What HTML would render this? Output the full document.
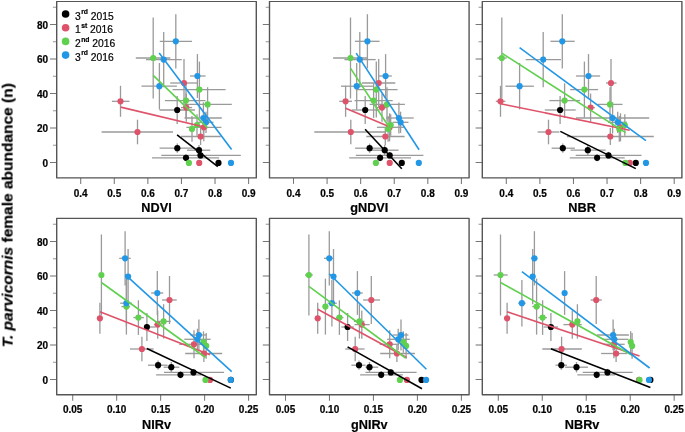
<!DOCTYPE html>
<html><head><meta charset="utf-8"><style>
html,body{margin:0;padding:0;background:#fff;width:685px;height:432px;overflow:hidden}
svg{display:block;will-change:transform}
text{font-family:"Liberation Sans",sans-serif}
.tl{font-size:10px;font-weight:bold;fill:#000;stroke:#000;stroke-width:0.2px}
.tt{font-size:12.7px;font-weight:bold;fill:#000;stroke:#000;stroke-width:0.2px}
.lg{font-size:10.3px;fill:#000;stroke:#000;stroke-width:0.2px}
.sup{font-size:6.8px;font-weight:bold}
.yt{font-size:15.5px;font-weight:bold;fill:#000;stroke:#000;stroke-width:0.2px}
</style></head><body>
<svg width="685" height="432" viewBox="0 0 685 432">
<defs><filter id="bl" x="0" y="0" width="1" height="1"><feGaussianBlur stdDeviation="0.3"/></filter></defs>
<rect x="0" y="0" width="685" height="432" fill="#fff"/>
<g filter="url(#bl)">
<line x1="50.00" y1="162.50" x2="56.70" y2="162.50" stroke="#777" stroke-width="1.05"/>
<text x="48.10" y="166.55" text-anchor="end" class="tl">0</text>
<line x1="52.90" y1="145.25" x2="56.70" y2="145.25" stroke="#9a9a9a" stroke-width="1.05"/>
<line x1="50.00" y1="128.00" x2="56.70" y2="128.00" stroke="#777" stroke-width="1.05"/>
<text x="48.10" y="132.05" text-anchor="end" class="tl">20</text>
<line x1="52.90" y1="110.75" x2="56.70" y2="110.75" stroke="#9a9a9a" stroke-width="1.05"/>
<line x1="50.00" y1="93.50" x2="56.70" y2="93.50" stroke="#777" stroke-width="1.05"/>
<text x="48.10" y="97.55" text-anchor="end" class="tl">40</text>
<line x1="52.90" y1="76.25" x2="56.70" y2="76.25" stroke="#9a9a9a" stroke-width="1.05"/>
<line x1="50.00" y1="59.00" x2="56.70" y2="59.00" stroke="#777" stroke-width="1.05"/>
<text x="48.10" y="63.05" text-anchor="end" class="tl">60</text>
<line x1="52.90" y1="41.75" x2="56.70" y2="41.75" stroke="#9a9a9a" stroke-width="1.05"/>
<line x1="50.00" y1="24.50" x2="56.70" y2="24.50" stroke="#777" stroke-width="1.05"/>
<text x="48.10" y="28.55" text-anchor="end" class="tl">80</text>
<line x1="52.90" y1="7.25" x2="56.70" y2="7.25" stroke="#9a9a9a" stroke-width="1.05"/>
<line x1="80.70" y1="177.90" x2="80.70" y2="183.90" stroke="#777" stroke-width="1.05"/>
<text x="80.70" y="197.20" text-anchor="middle" class="tl">0.4</text>
<line x1="114.28" y1="177.90" x2="114.28" y2="183.90" stroke="#777" stroke-width="1.05"/>
<text x="114.28" y="197.20" text-anchor="middle" class="tl">0.5</text>
<line x1="147.86" y1="177.90" x2="147.86" y2="183.90" stroke="#777" stroke-width="1.05"/>
<text x="147.86" y="197.20" text-anchor="middle" class="tl">0.6</text>
<line x1="181.44" y1="177.90" x2="181.44" y2="183.90" stroke="#777" stroke-width="1.05"/>
<text x="181.44" y="197.20" text-anchor="middle" class="tl">0.7</text>
<line x1="215.02" y1="177.90" x2="215.02" y2="183.90" stroke="#777" stroke-width="1.05"/>
<text x="215.02" y="197.20" text-anchor="middle" class="tl">0.8</text>
<line x1="248.60" y1="177.90" x2="248.60" y2="183.90" stroke="#777" stroke-width="1.05"/>
<text x="248.60" y="197.20" text-anchor="middle" class="tl">0.9</text>
<text x="156.50" y="211.60" text-anchor="middle" class="tt">NDVI</text>
<line x1="159.80" y1="41.30" x2="192.00" y2="41.30" stroke="#9a9a9a" stroke-width="1.3"/>
<line x1="175.80" y1="14.20" x2="175.80" y2="68.40" stroke="#9a9a9a" stroke-width="1.3"/>
<line x1="135.80" y1="58.00" x2="170.30" y2="58.00" stroke="#9a9a9a" stroke-width="1.3"/>
<line x1="153.20" y1="17.50" x2="153.20" y2="98.50" stroke="#9a9a9a" stroke-width="1.3"/>
<line x1="146.00" y1="59.60" x2="181.80" y2="59.60" stroke="#9a9a9a" stroke-width="1.3"/>
<line x1="163.70" y1="32.00" x2="163.70" y2="87.20" stroke="#9a9a9a" stroke-width="1.3"/>
<line x1="190.00" y1="76.00" x2="205.60" y2="76.00" stroke="#9a9a9a" stroke-width="1.3"/>
<line x1="197.40" y1="54.10" x2="197.40" y2="97.90" stroke="#9a9a9a" stroke-width="1.3"/>
<line x1="170.20" y1="83.00" x2="197.30" y2="83.00" stroke="#9a9a9a" stroke-width="1.3"/>
<line x1="184.00" y1="59.00" x2="184.00" y2="107.00" stroke="#9a9a9a" stroke-width="1.3"/>
<line x1="141.50" y1="86.20" x2="176.90" y2="86.20" stroke="#9a9a9a" stroke-width="1.3"/>
<line x1="159.40" y1="63.00" x2="159.40" y2="109.40" stroke="#9a9a9a" stroke-width="1.3"/>
<line x1="172.60" y1="89.60" x2="225.60" y2="89.60" stroke="#9a9a9a" stroke-width="1.3"/>
<line x1="199.40" y1="61.60" x2="199.40" y2="117.60" stroke="#9a9a9a" stroke-width="1.3"/>
<line x1="164.90" y1="100.60" x2="205.50" y2="100.60" stroke="#9a9a9a" stroke-width="1.3"/>
<line x1="186.00" y1="83.30" x2="186.00" y2="117.90" stroke="#9a9a9a" stroke-width="1.3"/>
<line x1="111.90" y1="101.30" x2="129.50" y2="101.30" stroke="#9a9a9a" stroke-width="1.3"/>
<line x1="120.50" y1="85.80" x2="120.50" y2="116.80" stroke="#9a9a9a" stroke-width="1.3"/>
<line x1="184.50" y1="104.40" x2="231.80" y2="104.40" stroke="#9a9a9a" stroke-width="1.3"/>
<line x1="207.60" y1="87.20" x2="207.60" y2="121.60" stroke="#9a9a9a" stroke-width="1.3"/>
<line x1="181.00" y1="107.60" x2="192.10" y2="107.60" stroke="#9a9a9a" stroke-width="1.3"/>
<line x1="186.30" y1="93.50" x2="186.30" y2="121.70" stroke="#9a9a9a" stroke-width="1.3"/>
<line x1="159.50" y1="110.00" x2="195.00" y2="110.00" stroke="#9a9a9a" stroke-width="1.3"/>
<line x1="177.20" y1="96.00" x2="177.20" y2="124.00" stroke="#9a9a9a" stroke-width="1.3"/>
<line x1="184.50" y1="118.00" x2="221.80" y2="118.00" stroke="#9a9a9a" stroke-width="1.3"/>
<line x1="203.40" y1="102.40" x2="203.40" y2="133.60" stroke="#9a9a9a" stroke-width="1.3"/>
<line x1="197.30" y1="122.30" x2="213.50" y2="122.30" stroke="#9a9a9a" stroke-width="1.3"/>
<line x1="206.00" y1="111.70" x2="206.00" y2="132.90" stroke="#9a9a9a" stroke-width="1.3"/>
<line x1="197.00" y1="114.30" x2="197.00" y2="135.70" stroke="#9a9a9a" stroke-width="1.3"/>
<line x1="186.40" y1="127.30" x2="221.40" y2="127.30" stroke="#9a9a9a" stroke-width="1.3"/>
<line x1="203.80" y1="113.30" x2="203.80" y2="141.30" stroke="#9a9a9a" stroke-width="1.3"/>
<line x1="192.00" y1="116.00" x2="192.00" y2="141.80" stroke="#9a9a9a" stroke-width="1.3"/>
<line x1="101.60" y1="132.00" x2="173.00" y2="132.00" stroke="#9a9a9a" stroke-width="1.3"/>
<line x1="137.50" y1="119.70" x2="137.50" y2="144.30" stroke="#9a9a9a" stroke-width="1.3"/>
<line x1="181.00" y1="136.50" x2="220.80" y2="136.50" stroke="#9a9a9a" stroke-width="1.3"/>
<line x1="200.60" y1="128.00" x2="200.60" y2="145.00" stroke="#9a9a9a" stroke-width="1.3"/>
<line x1="159.60" y1="148.20" x2="193.90" y2="148.20" stroke="#9a9a9a" stroke-width="1.3"/>
<line x1="177.30" y1="143.60" x2="177.30" y2="152.80" stroke="#9a9a9a" stroke-width="1.3"/>
<line x1="187.00" y1="150.20" x2="210.30" y2="150.20" stroke="#9a9a9a" stroke-width="1.3"/>
<line x1="199.00" y1="145.00" x2="199.00" y2="155.40" stroke="#9a9a9a" stroke-width="1.3"/>
<line x1="161.30" y1="155.40" x2="240.80" y2="155.40" stroke="#9a9a9a" stroke-width="1.3"/>
<line x1="200.50" y1="151.90" x2="200.50" y2="158.90" stroke="#9a9a9a" stroke-width="1.3"/>
<line x1="152.00" y1="157.80" x2="219.00" y2="157.80" stroke="#9a9a9a" stroke-width="1.3"/>
<line x1="186.00" y1="154.30" x2="186.00" y2="161.30" stroke="#9a9a9a" stroke-width="1.3"/>
<circle cx="177.20" cy="110.00" r="3.1" fill="#000000"/>
<circle cx="177.30" cy="148.20" r="3.1" fill="#000000"/>
<circle cx="199.00" cy="150.20" r="3.1" fill="#000000"/>
<circle cx="200.50" cy="155.40" r="3.1" fill="#000000"/>
<circle cx="186.00" cy="157.80" r="3.1" fill="#000000"/>
<circle cx="218.50" cy="162.90" r="3.1" fill="#000000"/>
<circle cx="184.00" cy="83.00" r="3.1" fill="#DF536B"/>
<circle cx="120.50" cy="101.30" r="3.1" fill="#DF536B"/>
<circle cx="186.30" cy="107.60" r="3.1" fill="#DF536B"/>
<circle cx="203.80" cy="127.30" r="3.1" fill="#DF536B"/>
<circle cx="137.50" cy="132.00" r="3.1" fill="#DF536B"/>
<circle cx="200.60" cy="136.50" r="3.1" fill="#DF536B"/>
<circle cx="199.20" cy="162.90" r="3.1" fill="#DF536B"/>
<circle cx="153.20" cy="58.00" r="3.1" fill="#61D04F"/>
<circle cx="199.40" cy="89.60" r="3.1" fill="#61D04F"/>
<circle cx="186.00" cy="100.60" r="3.1" fill="#61D04F"/>
<circle cx="207.60" cy="104.40" r="3.1" fill="#61D04F"/>
<circle cx="197.00" cy="125.00" r="3.1" fill="#61D04F"/>
<circle cx="192.00" cy="128.90" r="3.1" fill="#61D04F"/>
<circle cx="188.90" cy="162.90" r="3.1" fill="#61D04F"/>
<circle cx="175.80" cy="41.30" r="3.1" fill="#2297E6"/>
<circle cx="163.70" cy="59.60" r="3.1" fill="#2297E6"/>
<circle cx="197.40" cy="76.00" r="3.1" fill="#2297E6"/>
<circle cx="159.40" cy="86.20" r="3.1" fill="#2297E6"/>
<circle cx="203.40" cy="118.00" r="3.1" fill="#2297E6"/>
<circle cx="206.00" cy="122.30" r="3.1" fill="#2297E6"/>
<circle cx="231.00" cy="162.90" r="3.1" fill="#2297E6"/>
<line x1="120.70" y1="107.10" x2="207.30" y2="127.80" stroke="#DF536B" stroke-width="1.6"/>
<line x1="153.20" y1="75.40" x2="207.60" y2="127.80" stroke="#61D04F" stroke-width="1.6"/>
<line x1="159.20" y1="53.10" x2="231.60" y2="149.60" stroke="#2297E6" stroke-width="1.6"/>
<line x1="177.10" y1="134.80" x2="217.80" y2="166.60" stroke="#000000" stroke-width="1.6"/>
<rect x="56.70" y="1.40" width="199.60" height="176.50" fill="none" stroke="#555" stroke-width="1.4" stroke-linejoin="round"/>
<line x1="262.80" y1="162.50" x2="269.50" y2="162.50" stroke="#777" stroke-width="1.05"/>
<line x1="265.70" y1="145.25" x2="269.50" y2="145.25" stroke="#9a9a9a" stroke-width="1.05"/>
<line x1="262.80" y1="128.00" x2="269.50" y2="128.00" stroke="#777" stroke-width="1.05"/>
<line x1="265.70" y1="110.75" x2="269.50" y2="110.75" stroke="#9a9a9a" stroke-width="1.05"/>
<line x1="262.80" y1="93.50" x2="269.50" y2="93.50" stroke="#777" stroke-width="1.05"/>
<line x1="265.70" y1="76.25" x2="269.50" y2="76.25" stroke="#9a9a9a" stroke-width="1.05"/>
<line x1="262.80" y1="59.00" x2="269.50" y2="59.00" stroke="#777" stroke-width="1.05"/>
<line x1="265.70" y1="41.75" x2="269.50" y2="41.75" stroke="#9a9a9a" stroke-width="1.05"/>
<line x1="262.80" y1="24.50" x2="269.50" y2="24.50" stroke="#777" stroke-width="1.05"/>
<line x1="265.70" y1="7.25" x2="269.50" y2="7.25" stroke="#9a9a9a" stroke-width="1.05"/>
<line x1="293.50" y1="177.90" x2="293.50" y2="183.90" stroke="#777" stroke-width="1.05"/>
<text x="293.50" y="197.20" text-anchor="middle" class="tl">0.4</text>
<line x1="327.08" y1="177.90" x2="327.08" y2="183.90" stroke="#777" stroke-width="1.05"/>
<text x="327.08" y="197.20" text-anchor="middle" class="tl">0.5</text>
<line x1="360.66" y1="177.90" x2="360.66" y2="183.90" stroke="#777" stroke-width="1.05"/>
<text x="360.66" y="197.20" text-anchor="middle" class="tl">0.6</text>
<line x1="394.24" y1="177.90" x2="394.24" y2="183.90" stroke="#777" stroke-width="1.05"/>
<text x="394.24" y="197.20" text-anchor="middle" class="tl">0.7</text>
<line x1="427.82" y1="177.90" x2="427.82" y2="183.90" stroke="#777" stroke-width="1.05"/>
<text x="427.82" y="197.20" text-anchor="middle" class="tl">0.8</text>
<line x1="461.40" y1="177.90" x2="461.40" y2="183.90" stroke="#777" stroke-width="1.05"/>
<text x="461.40" y="197.20" text-anchor="middle" class="tl">0.9</text>
<text x="369.30" y="211.60" text-anchor="middle" class="tt">gNDVI</text>
<line x1="354.90" y1="41.30" x2="379.60" y2="41.30" stroke="#9a9a9a" stroke-width="1.3"/>
<line x1="367.40" y1="14.20" x2="367.40" y2="68.40" stroke="#9a9a9a" stroke-width="1.3"/>
<line x1="333.10" y1="58.00" x2="367.00" y2="58.00" stroke="#9a9a9a" stroke-width="1.3"/>
<line x1="350.50" y1="17.50" x2="350.50" y2="98.50" stroke="#9a9a9a" stroke-width="1.3"/>
<line x1="344.40" y1="59.60" x2="375.70" y2="59.60" stroke="#9a9a9a" stroke-width="1.3"/>
<line x1="359.80" y1="32.00" x2="359.80" y2="87.20" stroke="#9a9a9a" stroke-width="1.3"/>
<line x1="378.90" y1="76.00" x2="391.80" y2="76.00" stroke="#9a9a9a" stroke-width="1.3"/>
<line x1="385.60" y1="54.10" x2="385.60" y2="97.90" stroke="#9a9a9a" stroke-width="1.3"/>
<line x1="362.00" y1="83.00" x2="395.30" y2="83.00" stroke="#9a9a9a" stroke-width="1.3"/>
<line x1="378.70" y1="59.00" x2="378.70" y2="107.00" stroke="#9a9a9a" stroke-width="1.3"/>
<line x1="341.00" y1="86.20" x2="372.90" y2="86.20" stroke="#9a9a9a" stroke-width="1.3"/>
<line x1="356.70" y1="63.00" x2="356.70" y2="109.40" stroke="#9a9a9a" stroke-width="1.3"/>
<line x1="355.70" y1="89.60" x2="397.60" y2="89.60" stroke="#9a9a9a" stroke-width="1.3"/>
<line x1="376.30" y1="61.60" x2="376.30" y2="117.60" stroke="#9a9a9a" stroke-width="1.3"/>
<line x1="354.50" y1="100.60" x2="392.70" y2="100.60" stroke="#9a9a9a" stroke-width="1.3"/>
<line x1="373.60" y1="83.30" x2="373.60" y2="117.90" stroke="#9a9a9a" stroke-width="1.3"/>
<line x1="339.30" y1="101.30" x2="352.00" y2="101.30" stroke="#9a9a9a" stroke-width="1.3"/>
<line x1="345.60" y1="85.80" x2="345.60" y2="116.80" stroke="#9a9a9a" stroke-width="1.3"/>
<line x1="369.60" y1="104.40" x2="404.90" y2="104.40" stroke="#9a9a9a" stroke-width="1.3"/>
<line x1="387.00" y1="87.20" x2="387.00" y2="121.60" stroke="#9a9a9a" stroke-width="1.3"/>
<line x1="377.00" y1="107.60" x2="387.00" y2="107.60" stroke="#9a9a9a" stroke-width="1.3"/>
<line x1="382.00" y1="93.50" x2="382.00" y2="121.70" stroke="#9a9a9a" stroke-width="1.3"/>
<line x1="351.80" y1="110.00" x2="379.60" y2="110.00" stroke="#9a9a9a" stroke-width="1.3"/>
<line x1="365.20" y1="96.00" x2="365.20" y2="124.00" stroke="#9a9a9a" stroke-width="1.3"/>
<line x1="386.10" y1="118.00" x2="413.70" y2="118.00" stroke="#9a9a9a" stroke-width="1.3"/>
<line x1="398.90" y1="102.40" x2="398.90" y2="133.60" stroke="#9a9a9a" stroke-width="1.3"/>
<line x1="392.70" y1="122.30" x2="408.50" y2="122.30" stroke="#9a9a9a" stroke-width="1.3"/>
<line x1="400.60" y1="111.70" x2="400.60" y2="132.90" stroke="#9a9a9a" stroke-width="1.3"/>
<line x1="390.70" y1="114.30" x2="390.70" y2="135.70" stroke="#9a9a9a" stroke-width="1.3"/>
<line x1="376.90" y1="127.30" x2="403.90" y2="127.30" stroke="#9a9a9a" stroke-width="1.3"/>
<line x1="389.60" y1="113.30" x2="389.60" y2="141.30" stroke="#9a9a9a" stroke-width="1.3"/>
<line x1="388.10" y1="116.00" x2="388.10" y2="141.80" stroke="#9a9a9a" stroke-width="1.3"/>
<line x1="314.30" y1="132.00" x2="385.30" y2="132.00" stroke="#9a9a9a" stroke-width="1.3"/>
<line x1="350.80" y1="119.70" x2="350.80" y2="144.30" stroke="#9a9a9a" stroke-width="1.3"/>
<line x1="366.30" y1="136.50" x2="404.60" y2="136.50" stroke="#9a9a9a" stroke-width="1.3"/>
<line x1="385.30" y1="128.00" x2="385.30" y2="145.00" stroke="#9a9a9a" stroke-width="1.3"/>
<line x1="355.10" y1="148.20" x2="383.00" y2="148.20" stroke="#9a9a9a" stroke-width="1.3"/>
<line x1="369.60" y1="143.60" x2="369.60" y2="152.80" stroke="#9a9a9a" stroke-width="1.3"/>
<line x1="371.00" y1="150.20" x2="398.50" y2="150.20" stroke="#9a9a9a" stroke-width="1.3"/>
<line x1="384.70" y1="145.00" x2="384.70" y2="155.40" stroke="#9a9a9a" stroke-width="1.3"/>
<line x1="355.80" y1="155.40" x2="423.40" y2="155.40" stroke="#9a9a9a" stroke-width="1.3"/>
<line x1="389.70" y1="151.90" x2="389.70" y2="158.90" stroke="#9a9a9a" stroke-width="1.3"/>
<line x1="349.20" y1="157.80" x2="411.00" y2="157.80" stroke="#9a9a9a" stroke-width="1.3"/>
<line x1="380.10" y1="154.30" x2="380.10" y2="161.30" stroke="#9a9a9a" stroke-width="1.3"/>
<circle cx="365.20" cy="110.00" r="3.1" fill="#000000"/>
<circle cx="369.60" cy="148.20" r="3.1" fill="#000000"/>
<circle cx="384.70" cy="150.20" r="3.1" fill="#000000"/>
<circle cx="389.70" cy="155.40" r="3.1" fill="#000000"/>
<circle cx="380.10" cy="157.80" r="3.1" fill="#000000"/>
<circle cx="401.80" cy="162.90" r="3.1" fill="#000000"/>
<circle cx="378.70" cy="83.00" r="3.1" fill="#DF536B"/>
<circle cx="345.60" cy="101.30" r="3.1" fill="#DF536B"/>
<circle cx="382.00" cy="107.60" r="3.1" fill="#DF536B"/>
<circle cx="389.60" cy="127.30" r="3.1" fill="#DF536B"/>
<circle cx="350.80" cy="132.00" r="3.1" fill="#DF536B"/>
<circle cx="385.30" cy="136.50" r="3.1" fill="#DF536B"/>
<circle cx="389.70" cy="162.90" r="3.1" fill="#DF536B"/>
<circle cx="350.50" cy="58.00" r="3.1" fill="#61D04F"/>
<circle cx="376.30" cy="89.60" r="3.1" fill="#61D04F"/>
<circle cx="373.60" cy="100.60" r="3.1" fill="#61D04F"/>
<circle cx="387.00" cy="104.40" r="3.1" fill="#61D04F"/>
<circle cx="390.70" cy="125.00" r="3.1" fill="#61D04F"/>
<circle cx="388.10" cy="128.90" r="3.1" fill="#61D04F"/>
<circle cx="375.90" cy="162.90" r="3.1" fill="#61D04F"/>
<circle cx="367.40" cy="41.30" r="3.1" fill="#2297E6"/>
<circle cx="359.80" cy="59.60" r="3.1" fill="#2297E6"/>
<circle cx="385.60" cy="76.00" r="3.1" fill="#2297E6"/>
<circle cx="356.70" cy="86.20" r="3.1" fill="#2297E6"/>
<circle cx="398.90" cy="118.00" r="3.1" fill="#2297E6"/>
<circle cx="400.60" cy="122.30" r="3.1" fill="#2297E6"/>
<circle cx="418.80" cy="162.90" r="3.1" fill="#2297E6"/>
<line x1="345.60" y1="108.20" x2="389.40" y2="126.70" stroke="#DF536B" stroke-width="1.6"/>
<line x1="350.60" y1="68.40" x2="389.20" y2="127.30" stroke="#61D04F" stroke-width="1.6"/>
<line x1="356.20" y1="53.10" x2="419.10" y2="149.70" stroke="#2297E6" stroke-width="1.6"/>
<line x1="365.10" y1="129.30" x2="401.80" y2="168.80" stroke="#000000" stroke-width="1.6"/>
<rect x="269.50" y="1.40" width="199.60" height="176.50" fill="none" stroke="#555" stroke-width="1.4" stroke-linejoin="round"/>
<line x1="475.60" y1="162.50" x2="482.30" y2="162.50" stroke="#777" stroke-width="1.05"/>
<line x1="478.50" y1="145.25" x2="482.30" y2="145.25" stroke="#9a9a9a" stroke-width="1.05"/>
<line x1="475.60" y1="128.00" x2="482.30" y2="128.00" stroke="#777" stroke-width="1.05"/>
<line x1="478.50" y1="110.75" x2="482.30" y2="110.75" stroke="#9a9a9a" stroke-width="1.05"/>
<line x1="475.60" y1="93.50" x2="482.30" y2="93.50" stroke="#777" stroke-width="1.05"/>
<line x1="478.50" y1="76.25" x2="482.30" y2="76.25" stroke="#9a9a9a" stroke-width="1.05"/>
<line x1="475.60" y1="59.00" x2="482.30" y2="59.00" stroke="#777" stroke-width="1.05"/>
<line x1="478.50" y1="41.75" x2="482.30" y2="41.75" stroke="#9a9a9a" stroke-width="1.05"/>
<line x1="475.60" y1="24.50" x2="482.30" y2="24.50" stroke="#777" stroke-width="1.05"/>
<line x1="478.50" y1="7.25" x2="482.30" y2="7.25" stroke="#9a9a9a" stroke-width="1.05"/>
<line x1="506.30" y1="177.90" x2="506.30" y2="183.90" stroke="#777" stroke-width="1.05"/>
<text x="506.30" y="197.20" text-anchor="middle" class="tl">0.4</text>
<line x1="539.88" y1="177.90" x2="539.88" y2="183.90" stroke="#777" stroke-width="1.05"/>
<text x="539.88" y="197.20" text-anchor="middle" class="tl">0.5</text>
<line x1="573.46" y1="177.90" x2="573.46" y2="183.90" stroke="#777" stroke-width="1.05"/>
<text x="573.46" y="197.20" text-anchor="middle" class="tl">0.6</text>
<line x1="607.04" y1="177.90" x2="607.04" y2="183.90" stroke="#777" stroke-width="1.05"/>
<text x="607.04" y="197.20" text-anchor="middle" class="tl">0.7</text>
<line x1="640.62" y1="177.90" x2="640.62" y2="183.90" stroke="#777" stroke-width="1.05"/>
<text x="640.62" y="197.20" text-anchor="middle" class="tl">0.8</text>
<line x1="674.20" y1="177.90" x2="674.20" y2="183.90" stroke="#777" stroke-width="1.05"/>
<text x="674.20" y="197.20" text-anchor="middle" class="tl">0.9</text>
<text x="582.10" y="211.60" text-anchor="middle" class="tt">NBR</text>
<line x1="550.40" y1="41.30" x2="574.70" y2="41.30" stroke="#9a9a9a" stroke-width="1.3"/>
<line x1="562.30" y1="14.20" x2="562.30" y2="68.40" stroke="#9a9a9a" stroke-width="1.3"/>
<line x1="497.20" y1="58.00" x2="506.80" y2="58.00" stroke="#9a9a9a" stroke-width="1.3"/>
<line x1="501.80" y1="17.50" x2="501.80" y2="98.50" stroke="#9a9a9a" stroke-width="1.3"/>
<line x1="525.70" y1="59.60" x2="561.00" y2="59.60" stroke="#9a9a9a" stroke-width="1.3"/>
<line x1="543.20" y1="32.00" x2="543.20" y2="87.20" stroke="#9a9a9a" stroke-width="1.3"/>
<line x1="576.00" y1="76.00" x2="600.10" y2="76.00" stroke="#9a9a9a" stroke-width="1.3"/>
<line x1="588.50" y1="54.10" x2="588.50" y2="97.90" stroke="#9a9a9a" stroke-width="1.3"/>
<line x1="606.00" y1="83.00" x2="616.50" y2="83.00" stroke="#9a9a9a" stroke-width="1.3"/>
<line x1="611.00" y1="59.00" x2="611.00" y2="107.00" stroke="#9a9a9a" stroke-width="1.3"/>
<line x1="505.40" y1="86.20" x2="533.90" y2="86.20" stroke="#9a9a9a" stroke-width="1.3"/>
<line x1="519.60" y1="63.00" x2="519.60" y2="109.40" stroke="#9a9a9a" stroke-width="1.3"/>
<line x1="570.20" y1="89.60" x2="598.10" y2="89.60" stroke="#9a9a9a" stroke-width="1.3"/>
<line x1="584.40" y1="61.60" x2="584.40" y2="117.60" stroke="#9a9a9a" stroke-width="1.3"/>
<line x1="549.40" y1="100.60" x2="580.10" y2="100.60" stroke="#9a9a9a" stroke-width="1.3"/>
<line x1="564.60" y1="83.30" x2="564.60" y2="117.90" stroke="#9a9a9a" stroke-width="1.3"/>
<line x1="495.80" y1="101.30" x2="505.40" y2="101.30" stroke="#9a9a9a" stroke-width="1.3"/>
<line x1="500.50" y1="85.80" x2="500.50" y2="116.80" stroke="#9a9a9a" stroke-width="1.3"/>
<line x1="597.60" y1="104.40" x2="622.50" y2="104.40" stroke="#9a9a9a" stroke-width="1.3"/>
<line x1="610.00" y1="87.20" x2="610.00" y2="121.60" stroke="#9a9a9a" stroke-width="1.3"/>
<line x1="588.20" y1="107.60" x2="594.90" y2="107.60" stroke="#9a9a9a" stroke-width="1.3"/>
<line x1="590.60" y1="93.50" x2="590.60" y2="121.70" stroke="#9a9a9a" stroke-width="1.3"/>
<line x1="544.80" y1="110.00" x2="575.70" y2="110.00" stroke="#9a9a9a" stroke-width="1.3"/>
<line x1="560.10" y1="96.00" x2="560.10" y2="124.00" stroke="#9a9a9a" stroke-width="1.3"/>
<line x1="576.00" y1="118.00" x2="649.20" y2="118.00" stroke="#9a9a9a" stroke-width="1.3"/>
<line x1="612.60" y1="102.40" x2="612.60" y2="133.60" stroke="#9a9a9a" stroke-width="1.3"/>
<line x1="608.00" y1="122.30" x2="627.00" y2="122.30" stroke="#9a9a9a" stroke-width="1.3"/>
<line x1="617.70" y1="111.70" x2="617.70" y2="132.90" stroke="#9a9a9a" stroke-width="1.3"/>
<line x1="624.80" y1="114.30" x2="624.80" y2="135.70" stroke="#9a9a9a" stroke-width="1.3"/>
<line x1="620.50" y1="113.30" x2="620.50" y2="141.30" stroke="#9a9a9a" stroke-width="1.3"/>
<line x1="619.30" y1="116.00" x2="619.30" y2="141.80" stroke="#9a9a9a" stroke-width="1.3"/>
<line x1="537.60" y1="132.00" x2="559.40" y2="132.00" stroke="#9a9a9a" stroke-width="1.3"/>
<line x1="548.50" y1="119.70" x2="548.50" y2="144.30" stroke="#9a9a9a" stroke-width="1.3"/>
<line x1="566.90" y1="136.50" x2="653.80" y2="136.50" stroke="#9a9a9a" stroke-width="1.3"/>
<line x1="610.30" y1="128.00" x2="610.30" y2="145.00" stroke="#9a9a9a" stroke-width="1.3"/>
<line x1="551.60" y1="148.20" x2="574.90" y2="148.20" stroke="#9a9a9a" stroke-width="1.3"/>
<line x1="562.80" y1="143.60" x2="562.80" y2="152.80" stroke="#9a9a9a" stroke-width="1.3"/>
<line x1="570.50" y1="150.20" x2="605.60" y2="150.20" stroke="#9a9a9a" stroke-width="1.3"/>
<line x1="587.80" y1="145.00" x2="587.80" y2="155.40" stroke="#9a9a9a" stroke-width="1.3"/>
<line x1="575.70" y1="155.40" x2="641.50" y2="155.40" stroke="#9a9a9a" stroke-width="1.3"/>
<line x1="608.50" y1="151.90" x2="608.50" y2="158.90" stroke="#9a9a9a" stroke-width="1.3"/>
<line x1="569.80" y1="157.80" x2="624.70" y2="157.80" stroke="#9a9a9a" stroke-width="1.3"/>
<line x1="597.10" y1="154.30" x2="597.10" y2="161.30" stroke="#9a9a9a" stroke-width="1.3"/>
<circle cx="560.10" cy="110.00" r="3.1" fill="#000000"/>
<circle cx="562.80" cy="148.20" r="3.1" fill="#000000"/>
<circle cx="587.80" cy="150.20" r="3.1" fill="#000000"/>
<circle cx="608.50" cy="155.40" r="3.1" fill="#000000"/>
<circle cx="597.10" cy="157.80" r="3.1" fill="#000000"/>
<circle cx="635.80" cy="162.90" r="3.1" fill="#000000"/>
<circle cx="611.00" cy="83.00" r="3.1" fill="#DF536B"/>
<circle cx="500.50" cy="101.30" r="3.1" fill="#DF536B"/>
<circle cx="590.60" cy="107.60" r="3.1" fill="#DF536B"/>
<circle cx="620.50" cy="127.30" r="3.1" fill="#DF536B"/>
<circle cx="548.50" cy="132.00" r="3.1" fill="#DF536B"/>
<circle cx="610.30" cy="136.50" r="3.1" fill="#DF536B"/>
<circle cx="629.80" cy="162.90" r="3.1" fill="#DF536B"/>
<circle cx="501.80" cy="58.00" r="3.1" fill="#61D04F"/>
<circle cx="584.40" cy="89.60" r="3.1" fill="#61D04F"/>
<circle cx="564.60" cy="100.60" r="3.1" fill="#61D04F"/>
<circle cx="610.00" cy="104.40" r="3.1" fill="#61D04F"/>
<circle cx="624.80" cy="125.00" r="3.1" fill="#61D04F"/>
<circle cx="619.30" cy="128.90" r="3.1" fill="#61D04F"/>
<circle cx="625.40" cy="162.90" r="3.1" fill="#61D04F"/>
<circle cx="562.30" cy="41.30" r="3.1" fill="#2297E6"/>
<circle cx="543.20" cy="59.60" r="3.1" fill="#2297E6"/>
<circle cx="588.50" cy="76.00" r="3.1" fill="#2297E6"/>
<circle cx="519.60" cy="86.20" r="3.1" fill="#2297E6"/>
<circle cx="612.60" cy="118.00" r="3.1" fill="#2297E6"/>
<circle cx="617.70" cy="122.30" r="3.1" fill="#2297E6"/>
<circle cx="646.00" cy="162.90" r="3.1" fill="#2297E6"/>
<line x1="500.50" y1="103.70" x2="629.70" y2="130.20" stroke="#DF536B" stroke-width="1.6"/>
<line x1="501.80" y1="53.10" x2="625.60" y2="132.60" stroke="#61D04F" stroke-width="1.6"/>
<line x1="519.60" y1="47.70" x2="645.90" y2="140.60" stroke="#2297E6" stroke-width="1.6"/>
<line x1="560.30" y1="131.40" x2="635.80" y2="168.60" stroke="#000000" stroke-width="1.6"/>
<rect x="482.30" y="1.40" width="199.60" height="176.50" fill="none" stroke="#555" stroke-width="1.4" stroke-linejoin="round"/>
<line x1="50.00" y1="379.50" x2="56.70" y2="379.50" stroke="#777" stroke-width="1.05"/>
<text x="48.10" y="383.55" text-anchor="end" class="tl">0</text>
<line x1="52.90" y1="362.25" x2="56.70" y2="362.25" stroke="#9a9a9a" stroke-width="1.05"/>
<line x1="50.00" y1="345.00" x2="56.70" y2="345.00" stroke="#777" stroke-width="1.05"/>
<text x="48.10" y="349.05" text-anchor="end" class="tl">20</text>
<line x1="52.90" y1="327.75" x2="56.70" y2="327.75" stroke="#9a9a9a" stroke-width="1.05"/>
<line x1="50.00" y1="310.50" x2="56.70" y2="310.50" stroke="#777" stroke-width="1.05"/>
<text x="48.10" y="314.55" text-anchor="end" class="tl">40</text>
<line x1="52.90" y1="293.25" x2="56.70" y2="293.25" stroke="#9a9a9a" stroke-width="1.05"/>
<line x1="50.00" y1="276.00" x2="56.70" y2="276.00" stroke="#777" stroke-width="1.05"/>
<text x="48.10" y="280.05" text-anchor="end" class="tl">60</text>
<line x1="52.90" y1="258.75" x2="56.70" y2="258.75" stroke="#9a9a9a" stroke-width="1.05"/>
<line x1="50.00" y1="241.50" x2="56.70" y2="241.50" stroke="#777" stroke-width="1.05"/>
<text x="48.10" y="245.55" text-anchor="end" class="tl">80</text>
<line x1="52.90" y1="224.25" x2="56.70" y2="224.25" stroke="#9a9a9a" stroke-width="1.05"/>
<line x1="72.70" y1="394.80" x2="72.70" y2="400.80" stroke="#777" stroke-width="1.05"/>
<text x="72.70" y="413.30" text-anchor="middle" class="tl">0.05</text>
<line x1="116.67" y1="394.80" x2="116.67" y2="400.80" stroke="#777" stroke-width="1.05"/>
<text x="116.67" y="413.30" text-anchor="middle" class="tl">0.10</text>
<line x1="160.64" y1="394.80" x2="160.64" y2="400.80" stroke="#777" stroke-width="1.05"/>
<text x="160.64" y="413.30" text-anchor="middle" class="tl">0.15</text>
<line x1="204.61" y1="394.80" x2="204.61" y2="400.80" stroke="#777" stroke-width="1.05"/>
<text x="204.61" y="413.30" text-anchor="middle" class="tl">0.20</text>
<line x1="248.58" y1="394.80" x2="248.58" y2="400.80" stroke="#777" stroke-width="1.05"/>
<text x="248.58" y="413.30" text-anchor="middle" class="tl">0.25</text>
<text x="156.50" y="428.50" text-anchor="middle" class="tt">NIRv</text>
<line x1="119.20" y1="258.30" x2="130.70" y2="258.30" stroke="#9a9a9a" stroke-width="1.3"/>
<line x1="125.10" y1="231.20" x2="125.10" y2="285.40" stroke="#9a9a9a" stroke-width="1.3"/>
<line x1="101.40" y1="234.50" x2="101.40" y2="315.50" stroke="#9a9a9a" stroke-width="1.3"/>
<line x1="128.10" y1="249.00" x2="128.10" y2="304.20" stroke="#9a9a9a" stroke-width="1.3"/>
<line x1="151.10" y1="293.00" x2="163.30" y2="293.00" stroke="#9a9a9a" stroke-width="1.3"/>
<line x1="157.30" y1="271.10" x2="157.30" y2="314.90" stroke="#9a9a9a" stroke-width="1.3"/>
<line x1="162.00" y1="300.00" x2="176.70" y2="300.00" stroke="#9a9a9a" stroke-width="1.3"/>
<line x1="169.50" y1="276.00" x2="169.50" y2="324.00" stroke="#9a9a9a" stroke-width="1.3"/>
<line x1="120.20" y1="303.20" x2="132.00" y2="303.20" stroke="#9a9a9a" stroke-width="1.3"/>
<line x1="126.40" y1="280.00" x2="126.40" y2="326.40" stroke="#9a9a9a" stroke-width="1.3"/>
<line x1="121.50" y1="306.60" x2="130.00" y2="306.60" stroke="#9a9a9a" stroke-width="1.3"/>
<line x1="126.40" y1="278.60" x2="126.40" y2="334.60" stroke="#9a9a9a" stroke-width="1.3"/>
<line x1="133.40" y1="317.60" x2="143.90" y2="317.60" stroke="#9a9a9a" stroke-width="1.3"/>
<line x1="138.40" y1="300.30" x2="138.40" y2="334.90" stroke="#9a9a9a" stroke-width="1.3"/>
<line x1="99.90" y1="302.80" x2="99.90" y2="333.80" stroke="#9a9a9a" stroke-width="1.3"/>
<line x1="157.00" y1="321.40" x2="170.80" y2="321.40" stroke="#9a9a9a" stroke-width="1.3"/>
<line x1="163.60" y1="304.20" x2="163.60" y2="338.60" stroke="#9a9a9a" stroke-width="1.3"/>
<line x1="154.00" y1="324.60" x2="161.50" y2="324.60" stroke="#9a9a9a" stroke-width="1.3"/>
<line x1="157.70" y1="310.50" x2="157.70" y2="338.70" stroke="#9a9a9a" stroke-width="1.3"/>
<line x1="144.50" y1="327.00" x2="155.70" y2="327.00" stroke="#9a9a9a" stroke-width="1.3"/>
<line x1="146.90" y1="313.00" x2="146.90" y2="341.00" stroke="#9a9a9a" stroke-width="1.3"/>
<line x1="190.60" y1="335.00" x2="206.50" y2="335.00" stroke="#9a9a9a" stroke-width="1.3"/>
<line x1="198.90" y1="319.40" x2="198.90" y2="350.60" stroke="#9a9a9a" stroke-width="1.3"/>
<line x1="184.30" y1="339.30" x2="210.60" y2="339.30" stroke="#9a9a9a" stroke-width="1.3"/>
<line x1="197.50" y1="328.70" x2="197.50" y2="349.90" stroke="#9a9a9a" stroke-width="1.3"/>
<line x1="203.50" y1="331.30" x2="203.50" y2="352.70" stroke="#9a9a9a" stroke-width="1.3"/>
<line x1="179.20" y1="344.30" x2="208.30" y2="344.30" stroke="#9a9a9a" stroke-width="1.3"/>
<line x1="194.00" y1="330.30" x2="194.00" y2="358.30" stroke="#9a9a9a" stroke-width="1.3"/>
<line x1="206.20" y1="333.00" x2="206.20" y2="358.80" stroke="#9a9a9a" stroke-width="1.3"/>
<line x1="130.00" y1="349.00" x2="153.70" y2="349.00" stroke="#9a9a9a" stroke-width="1.3"/>
<line x1="141.90" y1="336.70" x2="141.90" y2="361.30" stroke="#9a9a9a" stroke-width="1.3"/>
<line x1="185.20" y1="353.50" x2="222.20" y2="353.50" stroke="#9a9a9a" stroke-width="1.3"/>
<line x1="203.90" y1="345.00" x2="203.90" y2="362.00" stroke="#9a9a9a" stroke-width="1.3"/>
<line x1="148.00" y1="365.20" x2="167.60" y2="365.20" stroke="#9a9a9a" stroke-width="1.3"/>
<line x1="158.10" y1="360.60" x2="158.10" y2="369.80" stroke="#9a9a9a" stroke-width="1.3"/>
<line x1="163.60" y1="367.20" x2="179.30" y2="367.20" stroke="#9a9a9a" stroke-width="1.3"/>
<line x1="171.30" y1="362.00" x2="171.30" y2="372.40" stroke="#9a9a9a" stroke-width="1.3"/>
<line x1="164.00" y1="372.40" x2="224.00" y2="372.40" stroke="#9a9a9a" stroke-width="1.3"/>
<line x1="193.50" y1="368.90" x2="193.50" y2="375.90" stroke="#9a9a9a" stroke-width="1.3"/>
<line x1="156.10" y1="374.80" x2="201.30" y2="374.80" stroke="#9a9a9a" stroke-width="1.3"/>
<line x1="180.50" y1="371.30" x2="180.50" y2="378.30" stroke="#9a9a9a" stroke-width="1.3"/>
<circle cx="146.90" cy="327.00" r="3.1" fill="#000000"/>
<circle cx="158.10" cy="365.20" r="3.1" fill="#000000"/>
<circle cx="171.30" cy="367.20" r="3.1" fill="#000000"/>
<circle cx="193.50" cy="372.40" r="3.1" fill="#000000"/>
<circle cx="180.50" cy="374.80" r="3.1" fill="#000000"/>
<circle cx="230.80" cy="379.90" r="3.1" fill="#000000"/>
<circle cx="169.50" cy="300.00" r="3.1" fill="#DF536B"/>
<circle cx="99.90" cy="318.30" r="3.1" fill="#DF536B"/>
<circle cx="157.70" cy="324.60" r="3.1" fill="#DF536B"/>
<circle cx="194.00" cy="344.30" r="3.1" fill="#DF536B"/>
<circle cx="141.90" cy="349.00" r="3.1" fill="#DF536B"/>
<circle cx="203.90" cy="353.50" r="3.1" fill="#DF536B"/>
<circle cx="210.00" cy="379.90" r="3.1" fill="#DF536B"/>
<circle cx="101.40" cy="275.00" r="3.1" fill="#61D04F"/>
<circle cx="126.40" cy="306.60" r="3.1" fill="#61D04F"/>
<circle cx="138.40" cy="317.60" r="3.1" fill="#61D04F"/>
<circle cx="163.60" cy="321.40" r="3.1" fill="#61D04F"/>
<circle cx="203.50" cy="342.00" r="3.1" fill="#61D04F"/>
<circle cx="206.20" cy="345.90" r="3.1" fill="#61D04F"/>
<circle cx="205.50" cy="379.90" r="3.1" fill="#61D04F"/>
<circle cx="125.10" cy="258.30" r="3.1" fill="#2297E6"/>
<circle cx="128.10" cy="276.60" r="3.1" fill="#2297E6"/>
<circle cx="157.30" cy="293.00" r="3.1" fill="#2297E6"/>
<circle cx="126.40" cy="303.20" r="3.1" fill="#2297E6"/>
<circle cx="198.90" cy="335.00" r="3.1" fill="#2297E6"/>
<circle cx="197.50" cy="339.30" r="3.1" fill="#2297E6"/>
<circle cx="230.80" cy="379.90" r="3.1" fill="#2297E6"/>
<line x1="99.90" y1="311.80" x2="210.00" y2="354.70" stroke="#DF536B" stroke-width="1.6"/>
<line x1="101.40" y1="282.50" x2="205.60" y2="357.50" stroke="#61D04F" stroke-width="1.6"/>
<line x1="125.20" y1="274.60" x2="231.70" y2="371.60" stroke="#2297E6" stroke-width="1.6"/>
<line x1="146.80" y1="348.50" x2="230.80" y2="388.10" stroke="#000000" stroke-width="1.6"/>
<rect x="56.70" y="218.40" width="199.60" height="176.40" fill="none" stroke="#555" stroke-width="1.4" stroke-linejoin="round"/>
<line x1="262.80" y1="379.50" x2="269.50" y2="379.50" stroke="#777" stroke-width="1.05"/>
<line x1="265.70" y1="362.25" x2="269.50" y2="362.25" stroke="#9a9a9a" stroke-width="1.05"/>
<line x1="262.80" y1="345.00" x2="269.50" y2="345.00" stroke="#777" stroke-width="1.05"/>
<line x1="265.70" y1="327.75" x2="269.50" y2="327.75" stroke="#9a9a9a" stroke-width="1.05"/>
<line x1="262.80" y1="310.50" x2="269.50" y2="310.50" stroke="#777" stroke-width="1.05"/>
<line x1="265.70" y1="293.25" x2="269.50" y2="293.25" stroke="#9a9a9a" stroke-width="1.05"/>
<line x1="262.80" y1="276.00" x2="269.50" y2="276.00" stroke="#777" stroke-width="1.05"/>
<line x1="265.70" y1="258.75" x2="269.50" y2="258.75" stroke="#9a9a9a" stroke-width="1.05"/>
<line x1="262.80" y1="241.50" x2="269.50" y2="241.50" stroke="#777" stroke-width="1.05"/>
<line x1="265.70" y1="224.25" x2="269.50" y2="224.25" stroke="#9a9a9a" stroke-width="1.05"/>
<line x1="285.50" y1="394.80" x2="285.50" y2="400.80" stroke="#777" stroke-width="1.05"/>
<text x="285.50" y="413.30" text-anchor="middle" class="tl">0.05</text>
<line x1="329.47" y1="394.80" x2="329.47" y2="400.80" stroke="#777" stroke-width="1.05"/>
<text x="329.47" y="413.30" text-anchor="middle" class="tl">0.10</text>
<line x1="373.44" y1="394.80" x2="373.44" y2="400.80" stroke="#777" stroke-width="1.05"/>
<text x="373.44" y="413.30" text-anchor="middle" class="tl">0.15</text>
<line x1="417.41" y1="394.80" x2="417.41" y2="400.80" stroke="#777" stroke-width="1.05"/>
<text x="417.41" y="413.30" text-anchor="middle" class="tl">0.20</text>
<line x1="461.38" y1="394.80" x2="461.38" y2="400.80" stroke="#777" stroke-width="1.05"/>
<text x="461.38" y="413.30" text-anchor="middle" class="tl">0.25</text>
<text x="369.30" y="428.50" text-anchor="middle" class="tt">gNIRv</text>
<line x1="324.00" y1="258.30" x2="333.90" y2="258.30" stroke="#9a9a9a" stroke-width="1.3"/>
<line x1="329.30" y1="231.20" x2="329.30" y2="285.40" stroke="#9a9a9a" stroke-width="1.3"/>
<line x1="305.00" y1="275.00" x2="312.80" y2="275.00" stroke="#9a9a9a" stroke-width="1.3"/>
<line x1="308.90" y1="234.50" x2="308.90" y2="315.50" stroke="#9a9a9a" stroke-width="1.3"/>
<line x1="333.50" y1="249.00" x2="333.50" y2="304.20" stroke="#9a9a9a" stroke-width="1.3"/>
<line x1="351.90" y1="293.00" x2="362.80" y2="293.00" stroke="#9a9a9a" stroke-width="1.3"/>
<line x1="357.40" y1="271.10" x2="357.40" y2="314.90" stroke="#9a9a9a" stroke-width="1.3"/>
<line x1="363.10" y1="300.00" x2="380.10" y2="300.00" stroke="#9a9a9a" stroke-width="1.3"/>
<line x1="371.30" y1="276.00" x2="371.30" y2="324.00" stroke="#9a9a9a" stroke-width="1.3"/>
<line x1="327.60" y1="303.20" x2="336.80" y2="303.20" stroke="#9a9a9a" stroke-width="1.3"/>
<line x1="331.90" y1="280.00" x2="331.90" y2="326.40" stroke="#9a9a9a" stroke-width="1.3"/>
<line x1="325.40" y1="278.60" x2="325.40" y2="334.60" stroke="#9a9a9a" stroke-width="1.3"/>
<line x1="336.10" y1="317.60" x2="343.40" y2="317.60" stroke="#9a9a9a" stroke-width="1.3"/>
<line x1="339.40" y1="300.30" x2="339.40" y2="334.90" stroke="#9a9a9a" stroke-width="1.3"/>
<line x1="317.70" y1="302.80" x2="317.70" y2="333.80" stroke="#9a9a9a" stroke-width="1.3"/>
<line x1="353.90" y1="321.40" x2="364.40" y2="321.40" stroke="#9a9a9a" stroke-width="1.3"/>
<line x1="359.40" y1="304.20" x2="359.40" y2="338.60" stroke="#9a9a9a" stroke-width="1.3"/>
<line x1="354.50" y1="324.60" x2="369.60" y2="324.60" stroke="#9a9a9a" stroke-width="1.3"/>
<line x1="361.80" y1="310.50" x2="361.80" y2="338.70" stroke="#9a9a9a" stroke-width="1.3"/>
<line x1="341.40" y1="327.00" x2="353.90" y2="327.00" stroke="#9a9a9a" stroke-width="1.3"/>
<line x1="347.60" y1="313.00" x2="347.60" y2="341.00" stroke="#9a9a9a" stroke-width="1.3"/>
<line x1="392.70" y1="335.00" x2="408.40" y2="335.00" stroke="#9a9a9a" stroke-width="1.3"/>
<line x1="401.00" y1="319.40" x2="401.00" y2="350.60" stroke="#9a9a9a" stroke-width="1.3"/>
<line x1="387.10" y1="339.30" x2="409.80" y2="339.30" stroke="#9a9a9a" stroke-width="1.3"/>
<line x1="398.20" y1="328.70" x2="398.20" y2="349.90" stroke="#9a9a9a" stroke-width="1.3"/>
<line x1="403.30" y1="331.30" x2="403.30" y2="352.70" stroke="#9a9a9a" stroke-width="1.3"/>
<line x1="379.70" y1="344.30" x2="399.00" y2="344.30" stroke="#9a9a9a" stroke-width="1.3"/>
<line x1="389.70" y1="330.30" x2="389.70" y2="358.30" stroke="#9a9a9a" stroke-width="1.3"/>
<line x1="406.10" y1="333.00" x2="406.10" y2="358.80" stroke="#9a9a9a" stroke-width="1.3"/>
<line x1="345.30" y1="349.00" x2="364.60" y2="349.00" stroke="#9a9a9a" stroke-width="1.3"/>
<line x1="355.20" y1="336.70" x2="355.20" y2="361.30" stroke="#9a9a9a" stroke-width="1.3"/>
<line x1="380.20" y1="353.50" x2="414.90" y2="353.50" stroke="#9a9a9a" stroke-width="1.3"/>
<line x1="396.90" y1="345.00" x2="396.90" y2="362.00" stroke="#9a9a9a" stroke-width="1.3"/>
<line x1="351.40" y1="365.20" x2="365.50" y2="365.20" stroke="#9a9a9a" stroke-width="1.3"/>
<line x1="359.00" y1="360.60" x2="359.00" y2="369.80" stroke="#9a9a9a" stroke-width="1.3"/>
<line x1="365.50" y1="367.20" x2="378.20" y2="367.20" stroke="#9a9a9a" stroke-width="1.3"/>
<line x1="369.50" y1="362.00" x2="369.50" y2="372.40" stroke="#9a9a9a" stroke-width="1.3"/>
<line x1="365.50" y1="372.40" x2="416.60" y2="372.40" stroke="#9a9a9a" stroke-width="1.3"/>
<line x1="390.80" y1="368.90" x2="390.80" y2="375.90" stroke="#9a9a9a" stroke-width="1.3"/>
<line x1="360.10" y1="374.80" x2="402.80" y2="374.80" stroke="#9a9a9a" stroke-width="1.3"/>
<line x1="381.20" y1="371.30" x2="381.20" y2="378.30" stroke="#9a9a9a" stroke-width="1.3"/>
<circle cx="347.60" cy="327.00" r="3.1" fill="#000000"/>
<circle cx="359.00" cy="365.20" r="3.1" fill="#000000"/>
<circle cx="369.50" cy="367.20" r="3.1" fill="#000000"/>
<circle cx="390.80" cy="372.40" r="3.1" fill="#000000"/>
<circle cx="381.20" cy="374.80" r="3.1" fill="#000000"/>
<circle cx="421.50" cy="379.90" r="3.1" fill="#000000"/>
<circle cx="371.30" cy="300.00" r="3.1" fill="#DF536B"/>
<circle cx="317.70" cy="318.30" r="3.1" fill="#DF536B"/>
<circle cx="361.80" cy="324.60" r="3.1" fill="#DF536B"/>
<circle cx="389.70" cy="344.30" r="3.1" fill="#DF536B"/>
<circle cx="355.20" cy="349.00" r="3.1" fill="#DF536B"/>
<circle cx="396.90" cy="353.50" r="3.1" fill="#DF536B"/>
<circle cx="406.90" cy="379.90" r="3.1" fill="#DF536B"/>
<circle cx="308.90" cy="275.00" r="3.1" fill="#61D04F"/>
<circle cx="325.40" cy="306.60" r="3.1" fill="#61D04F"/>
<circle cx="339.40" cy="317.60" r="3.1" fill="#61D04F"/>
<circle cx="359.40" cy="321.40" r="3.1" fill="#61D04F"/>
<circle cx="403.30" cy="342.00" r="3.1" fill="#61D04F"/>
<circle cx="406.10" cy="345.90" r="3.1" fill="#61D04F"/>
<circle cx="399.90" cy="379.90" r="3.1" fill="#61D04F"/>
<circle cx="329.30" cy="258.30" r="3.1" fill="#2297E6"/>
<circle cx="333.50" cy="276.60" r="3.1" fill="#2297E6"/>
<circle cx="357.40" cy="293.00" r="3.1" fill="#2297E6"/>
<circle cx="331.90" cy="303.20" r="3.1" fill="#2297E6"/>
<circle cx="401.00" cy="335.00" r="3.1" fill="#2297E6"/>
<circle cx="398.20" cy="339.30" r="3.1" fill="#2297E6"/>
<circle cx="426.10" cy="379.90" r="3.1" fill="#2297E6"/>
<line x1="317.70" y1="309.20" x2="406.60" y2="357.50" stroke="#DF536B" stroke-width="1.6"/>
<line x1="308.90" y1="286.40" x2="405.60" y2="358.00" stroke="#61D04F" stroke-width="1.6"/>
<line x1="329.20" y1="273.70" x2="426.40" y2="369.30" stroke="#2297E6" stroke-width="1.6"/>
<line x1="347.60" y1="346.90" x2="422.00" y2="388.70" stroke="#000000" stroke-width="1.6"/>
<rect x="269.50" y="218.40" width="199.60" height="176.40" fill="none" stroke="#555" stroke-width="1.4" stroke-linejoin="round"/>
<line x1="475.60" y1="379.50" x2="482.30" y2="379.50" stroke="#777" stroke-width="1.05"/>
<line x1="478.50" y1="362.25" x2="482.30" y2="362.25" stroke="#9a9a9a" stroke-width="1.05"/>
<line x1="475.60" y1="345.00" x2="482.30" y2="345.00" stroke="#777" stroke-width="1.05"/>
<line x1="478.50" y1="327.75" x2="482.30" y2="327.75" stroke="#9a9a9a" stroke-width="1.05"/>
<line x1="475.60" y1="310.50" x2="482.30" y2="310.50" stroke="#777" stroke-width="1.05"/>
<line x1="478.50" y1="293.25" x2="482.30" y2="293.25" stroke="#9a9a9a" stroke-width="1.05"/>
<line x1="475.60" y1="276.00" x2="482.30" y2="276.00" stroke="#777" stroke-width="1.05"/>
<line x1="478.50" y1="258.75" x2="482.30" y2="258.75" stroke="#9a9a9a" stroke-width="1.05"/>
<line x1="475.60" y1="241.50" x2="482.30" y2="241.50" stroke="#777" stroke-width="1.05"/>
<line x1="478.50" y1="224.25" x2="482.30" y2="224.25" stroke="#9a9a9a" stroke-width="1.05"/>
<line x1="498.30" y1="394.80" x2="498.30" y2="400.80" stroke="#777" stroke-width="1.05"/>
<text x="498.30" y="413.30" text-anchor="middle" class="tl">0.05</text>
<line x1="542.27" y1="394.80" x2="542.27" y2="400.80" stroke="#777" stroke-width="1.05"/>
<text x="542.27" y="413.30" text-anchor="middle" class="tl">0.10</text>
<line x1="586.24" y1="394.80" x2="586.24" y2="400.80" stroke="#777" stroke-width="1.05"/>
<text x="586.24" y="413.30" text-anchor="middle" class="tl">0.15</text>
<line x1="630.21" y1="394.80" x2="630.21" y2="400.80" stroke="#777" stroke-width="1.05"/>
<text x="630.21" y="413.30" text-anchor="middle" class="tl">0.20</text>
<line x1="674.18" y1="394.80" x2="674.18" y2="400.80" stroke="#777" stroke-width="1.05"/>
<text x="674.18" y="413.30" text-anchor="middle" class="tl">0.25</text>
<text x="582.10" y="428.50" text-anchor="middle" class="tt">NBRv</text>
<line x1="531.40" y1="258.30" x2="537.30" y2="258.30" stroke="#9a9a9a" stroke-width="1.3"/>
<line x1="534.40" y1="231.20" x2="534.40" y2="285.40" stroke="#9a9a9a" stroke-width="1.3"/>
<line x1="493.70" y1="275.00" x2="507.70" y2="275.00" stroke="#9a9a9a" stroke-width="1.3"/>
<line x1="500.50" y1="234.50" x2="500.50" y2="315.50" stroke="#9a9a9a" stroke-width="1.3"/>
<line x1="532.70" y1="249.00" x2="532.70" y2="304.20" stroke="#9a9a9a" stroke-width="1.3"/>
<line x1="564.60" y1="271.10" x2="564.60" y2="314.90" stroke="#9a9a9a" stroke-width="1.3"/>
<line x1="590.60" y1="300.00" x2="601.80" y2="300.00" stroke="#9a9a9a" stroke-width="1.3"/>
<line x1="596.20" y1="276.00" x2="596.20" y2="324.00" stroke="#9a9a9a" stroke-width="1.3"/>
<line x1="518.20" y1="303.20" x2="525.70" y2="303.20" stroke="#9a9a9a" stroke-width="1.3"/>
<line x1="521.90" y1="280.00" x2="521.90" y2="326.40" stroke="#9a9a9a" stroke-width="1.3"/>
<line x1="532.30" y1="306.60" x2="540.00" y2="306.60" stroke="#9a9a9a" stroke-width="1.3"/>
<line x1="536.60" y1="278.60" x2="536.60" y2="334.60" stroke="#9a9a9a" stroke-width="1.3"/>
<line x1="538.40" y1="317.60" x2="546.90" y2="317.60" stroke="#9a9a9a" stroke-width="1.3"/>
<line x1="542.60" y1="300.30" x2="542.60" y2="334.90" stroke="#9a9a9a" stroke-width="1.3"/>
<line x1="507.10" y1="302.80" x2="507.10" y2="333.80" stroke="#9a9a9a" stroke-width="1.3"/>
<line x1="577.40" y1="304.20" x2="577.40" y2="338.60" stroke="#9a9a9a" stroke-width="1.3"/>
<line x1="563.40" y1="324.60" x2="581.80" y2="324.60" stroke="#9a9a9a" stroke-width="1.3"/>
<line x1="572.30" y1="310.50" x2="572.30" y2="338.70" stroke="#9a9a9a" stroke-width="1.3"/>
<line x1="543.60" y1="327.00" x2="558.10" y2="327.00" stroke="#9a9a9a" stroke-width="1.3"/>
<line x1="550.90" y1="313.00" x2="550.90" y2="341.00" stroke="#9a9a9a" stroke-width="1.3"/>
<line x1="596.90" y1="335.00" x2="628.90" y2="335.00" stroke="#9a9a9a" stroke-width="1.3"/>
<line x1="613.10" y1="319.40" x2="613.10" y2="350.60" stroke="#9a9a9a" stroke-width="1.3"/>
<line x1="602.00" y1="339.30" x2="628.40" y2="339.30" stroke="#9a9a9a" stroke-width="1.3"/>
<line x1="614.30" y1="328.70" x2="614.30" y2="349.90" stroke="#9a9a9a" stroke-width="1.3"/>
<line x1="630.70" y1="331.30" x2="630.70" y2="352.70" stroke="#9a9a9a" stroke-width="1.3"/>
<line x1="603.40" y1="344.30" x2="624.70" y2="344.30" stroke="#9a9a9a" stroke-width="1.3"/>
<line x1="613.90" y1="330.30" x2="613.90" y2="358.30" stroke="#9a9a9a" stroke-width="1.3"/>
<line x1="632.10" y1="333.00" x2="632.10" y2="358.80" stroke="#9a9a9a" stroke-width="1.3"/>
<line x1="542.30" y1="349.00" x2="581.80" y2="349.00" stroke="#9a9a9a" stroke-width="1.3"/>
<line x1="561.60" y1="336.70" x2="561.60" y2="361.30" stroke="#9a9a9a" stroke-width="1.3"/>
<line x1="601.10" y1="353.50" x2="627.00" y2="353.50" stroke="#9a9a9a" stroke-width="1.3"/>
<line x1="616.10" y1="345.00" x2="616.10" y2="362.00" stroke="#9a9a9a" stroke-width="1.3"/>
<line x1="555.50" y1="365.20" x2="566.90" y2="365.20" stroke="#9a9a9a" stroke-width="1.3"/>
<line x1="561.30" y1="360.60" x2="561.30" y2="369.80" stroke="#9a9a9a" stroke-width="1.3"/>
<line x1="565.10" y1="367.20" x2="587.90" y2="367.20" stroke="#9a9a9a" stroke-width="1.3"/>
<line x1="576.50" y1="362.00" x2="576.50" y2="372.40" stroke="#9a9a9a" stroke-width="1.3"/>
<line x1="582.70" y1="372.40" x2="632.60" y2="372.40" stroke="#9a9a9a" stroke-width="1.3"/>
<line x1="607.50" y1="368.90" x2="607.50" y2="375.90" stroke="#9a9a9a" stroke-width="1.3"/>
<line x1="577.40" y1="374.80" x2="615.10" y2="374.80" stroke="#9a9a9a" stroke-width="1.3"/>
<line x1="596.70" y1="371.30" x2="596.70" y2="378.30" stroke="#9a9a9a" stroke-width="1.3"/>
<circle cx="550.90" cy="327.00" r="3.1" fill="#000000"/>
<circle cx="561.30" cy="365.20" r="3.1" fill="#000000"/>
<circle cx="576.50" cy="367.20" r="3.1" fill="#000000"/>
<circle cx="607.50" cy="372.40" r="3.1" fill="#000000"/>
<circle cx="596.70" cy="374.80" r="3.1" fill="#000000"/>
<circle cx="650.40" cy="379.90" r="3.1" fill="#000000"/>
<circle cx="596.20" cy="300.00" r="3.1" fill="#DF536B"/>
<circle cx="507.10" cy="318.30" r="3.1" fill="#DF536B"/>
<circle cx="572.30" cy="324.60" r="3.1" fill="#DF536B"/>
<circle cx="613.90" cy="344.30" r="3.1" fill="#DF536B"/>
<circle cx="561.60" cy="349.00" r="3.1" fill="#DF536B"/>
<circle cx="616.10" cy="353.50" r="3.1" fill="#DF536B"/>
<circle cx="639.00" cy="379.90" r="3.1" fill="#DF536B"/>
<circle cx="500.50" cy="275.00" r="3.1" fill="#61D04F"/>
<circle cx="536.60" cy="306.60" r="3.1" fill="#61D04F"/>
<circle cx="542.60" cy="317.60" r="3.1" fill="#61D04F"/>
<circle cx="577.40" cy="321.40" r="3.1" fill="#61D04F"/>
<circle cx="630.70" cy="342.00" r="3.1" fill="#61D04F"/>
<circle cx="632.10" cy="345.90" r="3.1" fill="#61D04F"/>
<circle cx="639.50" cy="379.90" r="3.1" fill="#61D04F"/>
<circle cx="534.40" cy="258.30" r="3.1" fill="#2297E6"/>
<circle cx="532.70" cy="276.60" r="3.1" fill="#2297E6"/>
<circle cx="564.60" cy="293.00" r="3.1" fill="#2297E6"/>
<circle cx="521.90" cy="303.20" r="3.1" fill="#2297E6"/>
<circle cx="613.10" cy="335.00" r="3.1" fill="#2297E6"/>
<circle cx="614.30" cy="339.30" r="3.1" fill="#2297E6"/>
<circle cx="649.00" cy="379.90" r="3.1" fill="#2297E6"/>
<line x1="507.10" y1="311.80" x2="639.50" y2="356.10" stroke="#DF536B" stroke-width="1.6"/>
<line x1="500.50" y1="282.50" x2="632.10" y2="355.20" stroke="#61D04F" stroke-width="1.6"/>
<line x1="521.90" y1="271.60" x2="649.60" y2="368.00" stroke="#2297E6" stroke-width="1.6"/>
<line x1="550.90" y1="348.80" x2="650.40" y2="387.50" stroke="#000000" stroke-width="1.6"/>
<rect x="482.30" y="218.40" width="199.60" height="176.40" fill="none" stroke="#555" stroke-width="1.4" stroke-linejoin="round"/>
<circle cx="65.6" cy="14.00" r="3.8" fill="#000000"/>
<text x="74.9" y="19.60" class="lg">3<tspan dy="-5.45" dx="0.5" class="sup">rd</tspan><tspan dy="5.45"> 2015</tspan></text>
<circle cx="65.6" cy="27.70" r="3.8" fill="#DF536B"/>
<text x="74.9" y="33.30" class="lg">1<tspan dy="-5.45" dx="0.5" class="sup">st</tspan><tspan dy="5.45"> 2016</tspan></text>
<circle cx="65.6" cy="41.40" r="3.8" fill="#61D04F"/>
<text x="74.9" y="47.00" class="lg">2<tspan dy="-5.45" dx="0.5" class="sup">nd</tspan><tspan dy="5.45"> 2016</tspan></text>
<circle cx="65.6" cy="55.10" r="3.8" fill="#2297E6"/>
<text x="74.9" y="60.70" class="lg">3<tspan dy="-5.45" dx="0.5" class="sup">rd</tspan><tspan dy="5.45"> 2016</tspan></text>
<text transform="translate(12.6,215.3) rotate(-90)" text-anchor="middle" class="yt"><tspan font-style="italic">T. parvicornis</tspan> female abundance (n)</text>
</g>
</svg>
</body></html>
